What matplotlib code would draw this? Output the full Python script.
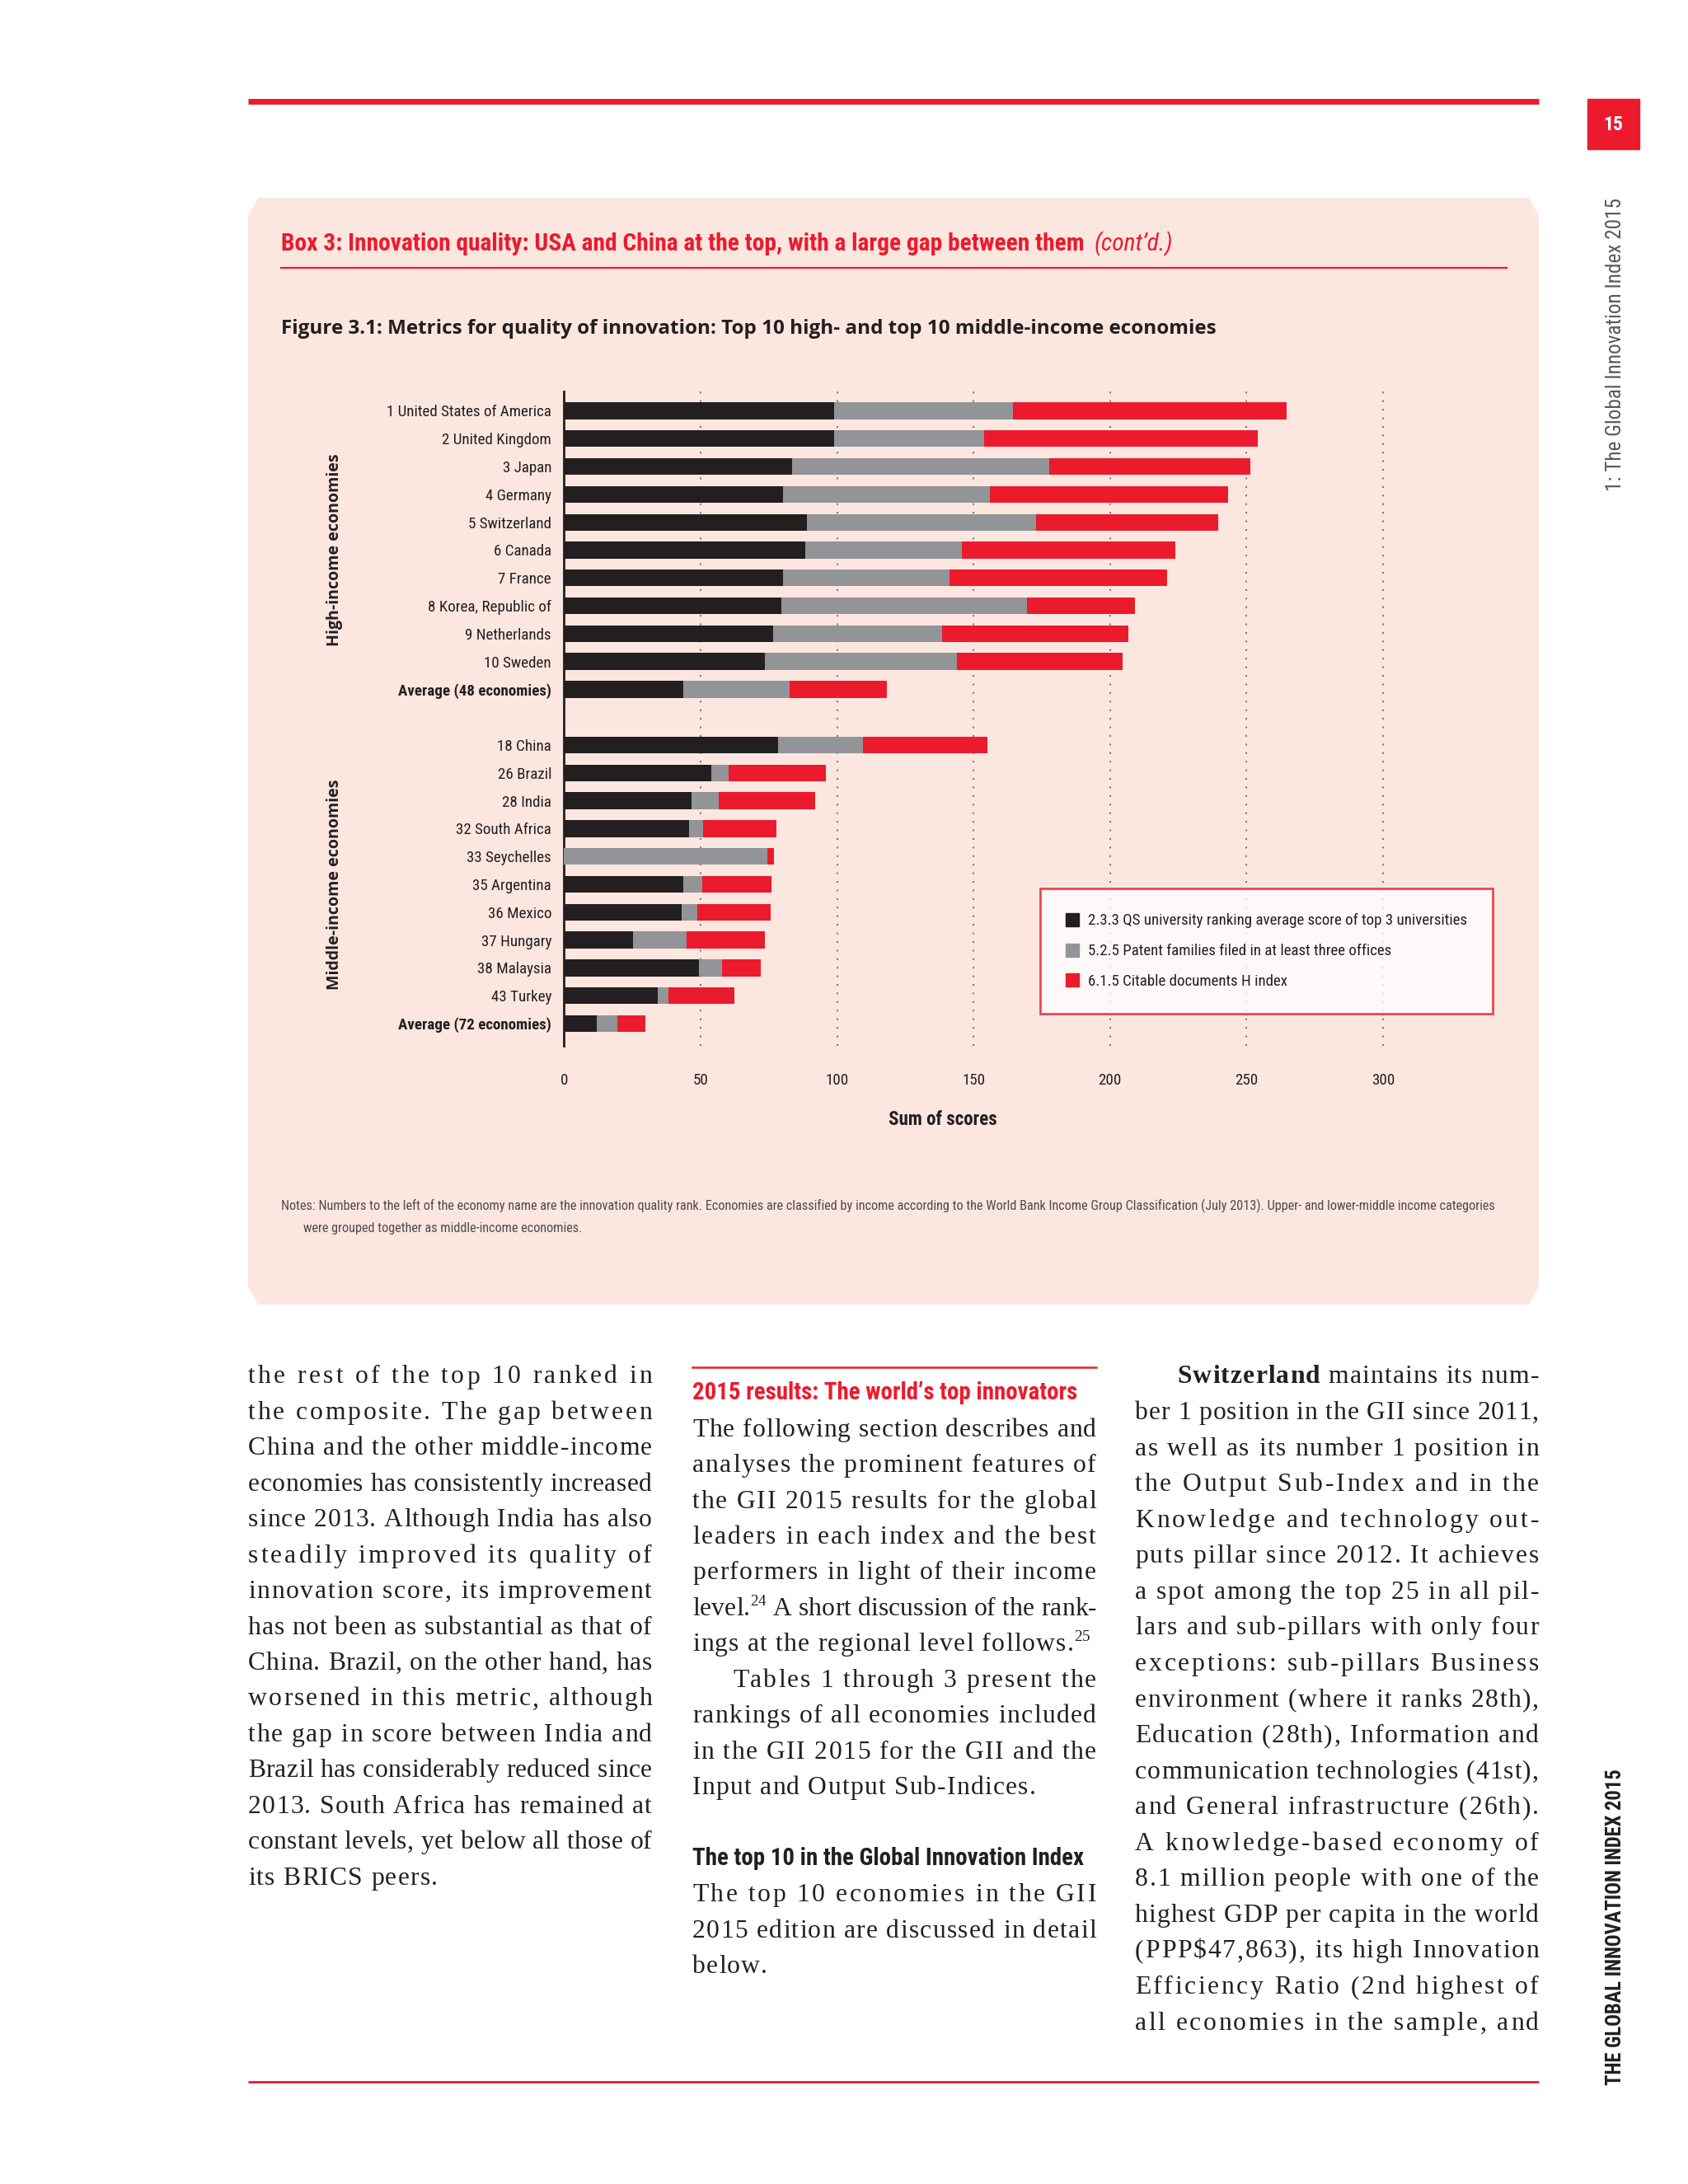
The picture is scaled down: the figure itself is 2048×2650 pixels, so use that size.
import numpy as np
import matplotlib
matplotlib.use('Agg')
import matplotlib.pyplot as plt
from matplotlib import font_manager as fm
from matplotlib.textpath import TextPath
from matplotlib.ft2font import FT2Font
from matplotlib.patches import Polygon, Rectangle
from matplotlib.lines import Line2D
from matplotlib.transforms import blended_transform_factory

W, H = 2048, 2650

# ---- data ----
high_names = ['1 United States of America', '2 United Kingdom', '3 Japan', '4 Germany',
              '5 Switzerland', '6 Canada', '7 France', '8 Korea, Republic of',
              '9 Netherlands', '10 Sweden', 'Average (48 economies)']
high_qs = [99.0, 99.0, 83.6, 80.1, 88.9, 88.4, 80.3, 79.6, 76.6, 73.4, 43.8]
high_pat = [65.5, 54.8, 94.0, 75.8, 84.0, 57.4, 61.0, 90.0, 62.0, 70.5, 38.7]
high_cit = [100.2, 100.4, 73.8, 87.3, 66.8, 78.0, 79.5, 39.6, 68.1, 60.6, 35.8]

mid_names = ['18 China', '26 Brazil', '28 India', '32 South Africa', '33 Seychelles',
             '35 Argentina', '36 Mexico', '37 Hungary', '38 Malaysia', '43 Turkey',
             'Average (72 economies)']
mid_qs = [78.4, 53.8, 46.7, 45.8, 0.0, 43.8, 43.1, 25.3, 49.3, 34.4, 11.9]
mid_pat = [31.1, 6.6, 9.9, 5.2, 74.6, 6.9, 5.7, 19.7, 8.7, 3.7, 7.5]
mid_cit = [45.7, 35.4, 35.4, 26.9, 2.4, 25.4, 26.8, 28.5, 14.1, 24.4, 10.4]

series_labels = ['2.3.3 QS university ranking average score of top 3 universities',
                 '5.2.5 Patent families filed in at least three offices',
                 '6.1.5 Citable documents H index']
xticks = [0, 50, 100, 150, 200, 250, 300]

RED = '#EB1B2D'
INK = '#231F20'
GREY = '#929497'
PINK = '#FCE6E0'


def pick(names, default):
    for n in names:
        try:
            fm.findfont(fm.FontProperties(family=n), fallback_to_default=False)
            return n
        except ValueError:
            continue
    return default


COND = pick(['Liberation Sans Narrow', 'Roboto Condensed', 'Open Sans Condensed',
             'Noto Sans Condensed'], 'Liberation Sans')
SANS = pick(['Open Sans', 'Noto Sans', 'Liberation Sans'], 'DejaVu Sans')
SERIF = pick(['Liberation Serif', 'DejaVu Serif'], 'DejaVu Serif')


def natural(s, family, weight='normal', style='normal'):
    fp = fm.FontProperties(family=family, weight=weight, style=style, size=10)
    return TextPath((0, 0), s, size=10, prop=fp).get_extents().width * 100 / 72


def fit(s, target, family, weight='normal', style='normal'):
    return 10 * target / natural(s, family, weight, style)


fig = plt.figure(figsize=(W / 100, H / 100), dpi=100)
fig.patch.set_facecolor('white')
bg = fig.add_axes([0, 0, 1, 1])
bg.set_xlim(0, W)
bg.set_ylim(H, 0)
bg.axis('off')
renderer = fig.canvas.get_renderer()

# page furniture
bg.plot([301, 1867], [123, 123], color=RED, lw=5, solid_capstyle='butt')
bg.add_patch(Rectangle((1926, 120), 63, 61, color=RED))
bg.text(1957.5, 151, '15', color='white', fontsize=17, fontweight='bold', family=COND,
        ha='center', va='center')
s = '1: The Global Innovation Index 2015'
bg.text(1960, 418, s, rotation=90, color='#58595B', family=COND,
        fontsize=fit(s, 353, COND), ha='center', va='center')
s = 'THE GLOBAL INNOVATION INDEX 2015'
bg.text(1960, 2338, s, rotation=90, color=INK, family=COND, fontweight='bold',
        fontsize=fit(s, 384, COND, 'bold'), ha='center', va='center')
bg.plot([301, 1867], [2526, 2526], color=RED, lw=2, solid_capstyle='butt')

# pink box
x0, x1, y0, y1, ch, cv = 301, 1867, 240, 1583, 12, 22
bg.add_patch(Polygon([(x0, y0 + cv), (x0 + ch, y0), (x1 - ch, y0), (x1, y0 + cv),
                      (x1, y1 - cv), (x1 - ch, y1), (x0 + ch, y1), (x0, y1 - cv)],
                     closed=True, facecolor=PINK, edgecolor='none'))

s = 'Box 3: Innovation quality: USA and China at the top, with a large gap between them'
tsz = fit(s, 973, COND, 'bold')
t = bg.text(341, 296, s, color=RED, family=COND, fontweight='bold', fontsize=tsz,
            ha='left', va='center')
tw = t.get_window_extent(renderer).width
bg.text(341 + tw + 12, 296, "(cont\u2019d.)", color=RED, family=COND, style='italic',
        fontsize=tsz, ha='left', va='center')
bg.plot([341, 1828], [324.5, 324.5], color=RED, lw=1.6)

s = 'Figure 3.1: Metrics for quality of innovation: Top 10 high- and top 10 middle-income economies'
bg.text(341, 399, s, color=INK, family=SANS, fontweight='bold',
        fontsize=fit(s, 1132, SANS, 'bold'), ha='left', va='center')

notes1 = ('Notes: Numbers to the left of the economy name are the innovation quality rank. '
          'Economies are classified by income according to the World Bank Income Group '
          'Classification (July 2013). Upper- and lower-middle income categories')
notes2 = 'were grouped together as middle-income economies.'
nsz = fit(notes1, 1475, COND)
bg.text(341, 1463, notes1, color='#4D4D4F', family=COND, fontsize=nsz, ha='left', va='center')
bg.text(368, 1490, notes2, color='#4D4D4F', family=COND, fontsize=nsz, ha='left', va='center')

# ---- chart ----
AX_L, AX_R, AX_T, AX_B = 684.4, 1810.5, 474.8, 1269.0
ax = fig.add_axes([AX_L / W, 1 - AX_B / H, (AX_R - AX_L) / W, (AX_B - AX_T) / H])
ax.set_facecolor('none')
pos = np.array(list(range(11)) + list(range(12, 23)))
qs = np.array(high_qs + mid_qs)
pat = np.array(high_pat + mid_pat)
cit = np.array(high_cit + mid_cit)
names = high_names + mid_names
ax.barh(pos, qs, height=0.6, color=INK, zorder=3)
ax.barh(pos, pat, left=qs, height=0.6, color=GREY, zorder=3)
ax.barh(pos, cit, left=qs + pat, height=0.6, color=RED, zorder=3)
ax.set_xlim(0, 340)
ax.set_ylim(22.8, -0.7)

lsz = fit('1 United States of America', 189, COND) * 1.05
ax.set_xticks(xticks)
ax.set_yticks(pos)
ax.set_yticklabels(names)
for lab in ax.get_yticklabels() + ax.get_xticklabels():
    lab.set_family(COND)
    lab.set_fontsize(lsz)
    lab.set_color(INK)
    if lab.get_text().startswith('Average'):
        lab.set_fontweight('bold')
ax.tick_params(axis='x', length=0, pad=24)
ax.tick_params(axis='y', length=0, pad=11)
ax.grid(axis='x', ls=(0, (1, 4)), lw=1.5, color='#7A7A7A')
ax.set_axisbelow(True)
for sp in ['top', 'right', 'bottom']:
    ax.spines[sp].set_visible(False)
ax.spines['left'].set_linewidth(2)
ax.spines['left'].set_color(INK)

ax.set_xlabel('Sum of scores', family=COND, fontweight='bold', color=INK,
              fontsize=fit('Sum of scores', 130, COND, 'bold'))
ax.xaxis.set_label_coords((1144 - AX_L) / (AX_R - AX_L), (AX_B - 1358.6) / (AX_B - AX_T))
ax.xaxis.label.set_va('center')

tr = blended_transform_factory(ax.transAxes, ax.transData)
gx = (405.6 - AX_L) / (AX_R - AX_L)
gsz = fit('High-income economies', 232, SANS, 'bold')
ax.text(gx, 5, 'High-income economies', rotation=90, transform=tr,
        family=SANS, fontweight='bold', fontsize=gsz, color=INK, ha='center', va='center')
ax.text(gx, 17, 'Middle-income economies', rotation=90, transform=tr,
        family=SANS, fontweight='bold', fontsize=gsz, color=INK, ha='center', va='center')

handles = [Line2D([], [], marker='s', ls='', color=c, markersize=11)
           for c in [INK, GREY, RED]]
legsz = fit(series_labels[0], 458, COND)
leg = ax.legend(handles, series_labels, loc='upper left',
                bbox_to_anchor=(1262 / W, 1 - 1078 / H), bbox_transform=fig.transFigure,
                borderaxespad=0, frameon=True, fancybox=False, borderpad=1.6,
                labelspacing=1.0, handlelength=0.9, handletextpad=0.6,
                prop=fm.FontProperties(family=COND, size=legsz))
leg.get_frame().set_edgecolor(RED)
leg.get_frame().set_linewidth(2)
leg.get_frame().set_facecolor('white')
leg.set_zorder(5)
for tx in leg.get_texts():
    tx.set_color(INK)

# ---- body text (justified by letter spacing) ----
col1 = ['the rest of the top 10 ranked in',
        'the composite. The gap between',
        'China and the other middle-income',
        'economies has consistently increased',
        'since 2013. Although India has also',
        'steadily improved its quality of',
        'innovation score, its improvement',
        'has not been as substantial as that of',
        'China. Brazil, on the other hand, has',
        'worsened in this metric, although',
        'the gap in score between India and',
        'Brazil has considerably reduced since',
        '2013. South Africa has remained at',
        'constant levels, yet below all those of',
        'its BRICS peers.']
col2a = ['The following section describes and',
         'analyses the prominent features of',
         'the GII 2015 results for the global',
         'leaders in each index and the best',
         'performers in light of their income',
         'level.^24 A short discussion of the rank-',
         'ings at the regional level follows.^25']
col2b = ['Tables 1 through 3 present the',
         'rankings of all economies included',
         'in the GII 2015 for the GII and the',
         'Input and Output Sub-Indices.']
col2c = ['The top 10 economies in the GII',
         '2015 edition are discussed in detail',
         'below.']
col3 = ['*Switzerland* maintains its num-',
        'ber 1 position in the GII since 2011,',
        'as well as its number 1 position in',
        'the Output Sub-Index and in the',
        'Knowledge and technology out-',
        'puts pillar since 2012. It achieves',
        'a spot among the top 25 in all pil-',
        'lars and sub-pillars with only four',
        'exceptions: sub-pillars Business',
        'environment (where it ranks 28th),',
        'Education (28th), Information and',
        'communication technologies (41st),',
        'and General infrastructure (26th).',
        'A knowledge-based economy of',
        '8.1 million people with one of the',
        'highest GDP per capita in the world',
        '(PPP$47,863), its high Innovation',
        'Efficiency Ratio (2nd highest of',
        'all economies in the sample, and']

_ft = {}


def adv(ch, weight, size):
    if weight not in _ft:
        _ft[weight] = FT2Font(fm.findfont(fm.FontProperties(family=SERIF, weight=weight)))
    f = _ft[weight]
    f.set_size(size, 100)
    return f.load_char(ord(ch)).linearHoriAdvance / 65536


def glyphs(line, size):
    out = []
    toks = line.split(' ')
    for k, tok in enumerate(toks):
        wt = 'bold' if tok.startswith('*') else 'normal'
        tok = tok.strip('*')
        sup = ''
        if '^' in tok:
            tok, sup = tok.split('^')
        for c in tok:
            out.append((c, wt, size, 0.0, adv(c, wt, size)))
        for c in sup:
            out.append((c, 'normal', size * 0.6, -size * 0.38, adv(c, 'normal', size * 0.6)))
        if k < len(toks) - 1:
            out.append((' ', wt, size, 0.0, adv(' ', wt, size)))
    return out


COLW = 490
BSZ = 20.0
widest = max(sum(g[4] for g in glyphs(l, BSZ))
             for l in col1 + col2a + col2b + col2c + col3)
BSZ = BSZ * (COLW - 4) / widest
TRACK_FREE = 1.2


def put_line(line, xa, xb, y, justify):
    gl = glyphs(line, BSZ)
    nat = sum(g[4] for g in gl)
    track = (xb - xa - nat) / (len(gl) - 1) if justify else TRACK_FREE
    x = xa
    for c, wt, sz, dy, a in gl:
        if c != ' ':
            bg.text(x, y + dy * 100 / 72, c, fontsize=sz, family=SERIF, fontweight=wt,
                    color=INK, va='baseline', ha='left')
        x += a + (track if sz == BSZ else 0.3)


def put_para(lines, xa, xb, ys, indent=0, last_justified=False):
    for i, (l, y) in enumerate(zip(lines, ys)):
        just = last_justified or i < len(lines) - 1
        put_line(l, xa + (indent if i == 0 else 0), xb, y + 9, just)


C1, C2, C3 = (301, 791), (840, 1330), (1377, 1867)
put_para(col1, C1[0], C1[1], [1669.5 + 43.43 * i for i in range(15)])

L2 = [1733.7 + 43.43 * i for i in range(-1, 16)]
bg.plot([C2[0], C2[1]], [1659.4, 1659.4], color=RED, lw=1.8)
h1 = '2015 results: The world\u2019s top innovators'
hsz = fit(h1, 466, COND, 'bold')
bg.text(C2[0], L2[0], h1, color=RED, family=COND, fontweight='bold', fontsize=hsz, va='center')
put_para(col2a, C2[0], C2[1], L2[1:8])
put_para(col2b, C2[0], C2[1], L2[8:12], indent=49)
h2 = 'The top 10 in the Global Innovation Index'
bg.text(C2[0], L2[13], h2, color=INK, family=COND, fontweight='bold', fontsize=hsz, va='center')
put_para(col2c, C2[0], C2[1], L2[14:17])

put_para(col3, C3[0], C3[1], [1669.5 + 43.56 * i for i in range(19)], indent=51,
         last_justified=True)

fig.savefig('out.png', dpi=100, facecolor='white')
